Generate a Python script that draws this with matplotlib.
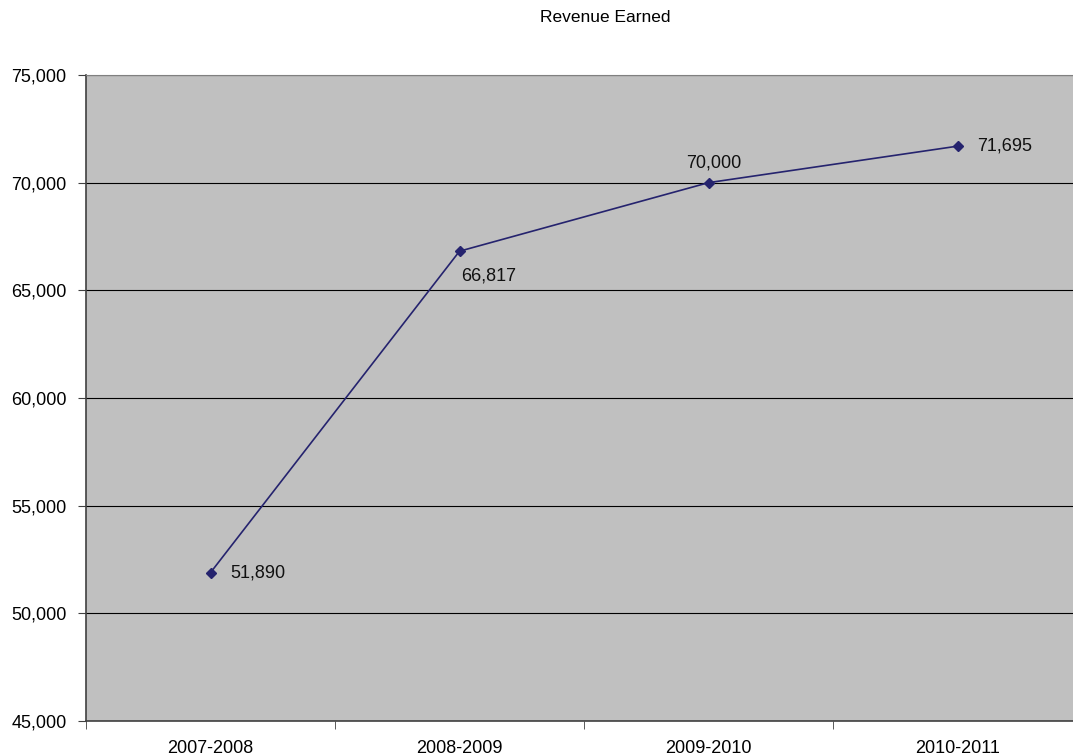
import matplotlib
matplotlib.use("Agg")
import matplotlib.pyplot as plt
from matplotlib.ticker import FuncFormatter, FixedLocator

plt.rcParams['font.family'] = ['Liberation Sans', 'DejaVu Sans']

categories = ["2007-2008", "2008-2009", "2009-2010", "2010-2011"]
revenue = [51890, 66817, 70000, 71695]
y_ticks = [45000, 50000, 55000, 60000, 65000, 70000, 75000]

fig = plt.figure(figsize=(10.73, 7.56), dpi=100)
ax = fig.add_axes([86/1073, 35/756, (1082-86)/1073, 646/756])
ax.set_facecolor('#C0C0C0')

x = list(range(len(categories)))
ax.plot(x, revenue, color='#25236E', linewidth=1.2, marker='D', markersize=5,
        markerfacecolor='#25236E', markeredgecolor='#25236E', zorder=3)

ax.set_xlim(-0.5, len(categories) - 0.5)
ax.set_ylim(y_ticks[0], y_ticks[-1])
ax.set_yticks(y_ticks)
ax.yaxis.set_major_formatter(FuncFormatter(lambda v, p: f"{int(v):,}"))
ax.yaxis.grid(True, color='black', linewidth=0.8)
ax.set_axisbelow(True)

ax.set_xticks(x)
ax.set_xticklabels(categories)
ax.xaxis.set_minor_locator(FixedLocator([i - 0.5 for i in x]))
ax.tick_params(axis='x', which='major', length=0, pad=14, labelsize=13)
ax.tick_params(axis='x', which='minor', length=6, color='#404040', direction='out')
ax.tick_params(axis='y', length=6, color='#404040', direction='out', pad=8, labelsize=13)

for s in ['left', 'bottom']:
    ax.spines[s].set_color('#404040')
    ax.spines[s].set_linewidth(1.2)
ax.spines['top'].set_color('#808080')
ax.spines['right'].set_visible(False)

offsets = [(14, 0, 'left'), (1, -18, 'left'), (3.6, 14.4, 'center'), (14, 0, 'left')]
for xi, v, (dx, dy, ha) in zip(x, revenue, offsets):
    ax.annotate(f"{v:,}", (xi, v), xytext=(dx, dy), textcoords='offset points',
                ha=ha, va='center', fontsize=13, color='#111111')

fig.text(605/1073, 1 - 17/756, "Revenue Earned", ha='center', va='center', fontsize=12.5)

fig.savefig("out.png", dpi=100)
